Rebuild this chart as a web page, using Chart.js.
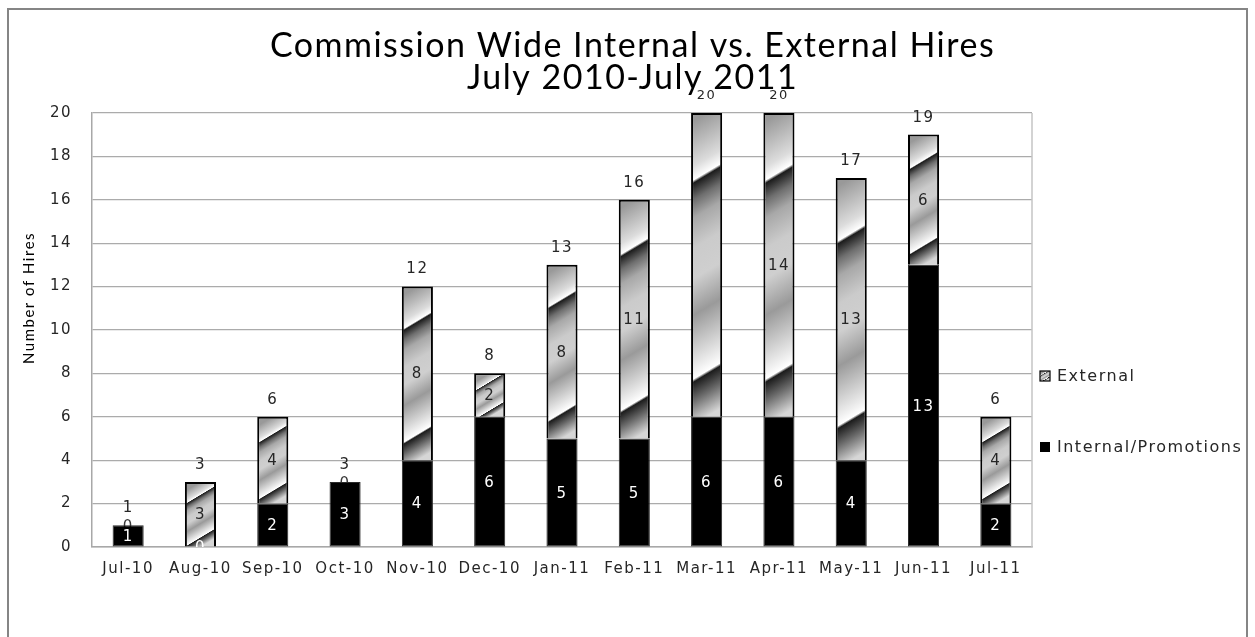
<!DOCTYPE html>
<html>
<head>
<meta charset="utf-8">
<script src="https://cdn.jsdelivr.net/npm/chart.js@4.4.1/dist/chart.umd.min.js"></script>
<style>
  html, body { margin: 0; padding: 0; background: #ffffff; }
  #wrap { width: 1255px; height: 637px; position: relative; }
</style>
</head>
<body>
<div id="wrap"><canvas id="c"></canvas></div>
<script>
const categories = ['Jul-10','Aug-10','Sep-10','Oct-10','Nov-10','Dec-10','Jan-11','Feb-11','Mar-11','Apr-11','May-11','Jun-11','Jul-11'];
const internalHires = [1, 0, 2, 3, 4, 6, 5, 5, 6, 6, 4, 13, 2];
const externalHires = [0, 3, 4, 0, 8, 2, 8, 11, 14, 14, 13, 6, 4];
const seriesNames = ['Internal/Promotions', 'External'];
const titleLines = ['Commission Wide Internal vs. External Hires', 'July 2010-July 2011'];
const yAxisTitle = 'Number of Hires';
const yMin = 0, yMax = 20, yStep = 2;
const externalLabelHidden = ['Mar-11'];

const LETTER_SPACING = '1.5px';
const TICK_FONT = { family: 'DejaVu Sans', size: 15 };

function chromeGradient(ctx2d, cx, top, h) {
  const g = ctx2d.createLinearGradient(cx, top, cx + 0.6 * h / 1.36, top + h / 1.36);
  g.addColorStop(0.00, '#999999');
  g.addColorStop(0.15, '#dcdcdc');
  g.addColorStop(0.195, '#ffffff');
  g.addColorStop(0.205, '#1c1c1c');
  g.addColorStop(0.26, '#6e6e6e');
  g.addColorStop(0.32, '#a8a8a8');
  g.addColorStop(0.42, '#cbcbcb');
  g.addColorStop(0.52, '#cfcfcf');
  g.addColorStop(0.64, '#9a9a9a');
  g.addColorStop(0.82, '#f0f0f0');
  g.addColorStop(0.85, '#ffffff');
  g.addColorStop(0.86, '#1c1c1c');
  g.addColorStop(0.92, '#6a6a6a');
  g.addColorStop(1.00, '#d6d6d6');
  return g;
}

function externalFill(context) {
  const chart = context.chart;
  const i = context.dataIndex;
  const xs = chart.scales.x, ys = chart.scales.y;
  if (!chart.chartArea || !xs || !ys || i == null) return '#c0c0c0';
  const cx = xs.getPixelForValue(i);
  const top = ys.getPixelForValue(internalHires[i] + externalHires[i]);
  const bot = ys.getPixelForValue(internalHires[i]);
  const h = Math.max(bot - top, 1);
  return chromeGradient(chart.ctx, cx, top, h);
}

const spacingPlugin = {
  id: 'spacing',
  beforeUpdate(chart) { chart.ctx.letterSpacing = LETTER_SPACING; },
  beforeDraw(chart) { chart.ctx.letterSpacing = LETTER_SPACING; }
};

const framePlugin = {
  id: 'frame',
  beforeDraw(chart) {
    const ctx = chart.ctx;
    ctx.save();
    ctx.fillStyle = '#ffffff';
    ctx.fillRect(0, 0, chart.width, chart.height);
    ctx.strokeStyle = '#858585';
    ctx.lineWidth = 2;
    ctx.strokeRect(8, 9, chart.width - 16, chart.height + 20);
    ctx.restore();
  },
  beforeDatasetsDraw(chart) {
    const ctx = chart.ctx, a = chart.chartArea;
    ctx.save();
    ctx.strokeStyle = '#c4c4c4';
    ctx.lineWidth = 1.5;
    ctx.beginPath();
    ctx.moveTo(a.right, a.top);
    ctx.lineTo(a.right, a.bottom);
    ctx.stroke();
    ctx.restore();
  }
};

function labelFont(size) { return size + 'px "DejaVu Sans"'; }

const labelsPlugin = {
  id: 'barLabels',
  beforeDatasetsDraw(chart) {
    const ctx = chart.ctx, ys = chart.scales.y, xs = chart.scales.x;
    ctx.save();
    ctx.font = labelFont(15);
    ctx.textAlign = 'center';
    ctx.textBaseline = 'middle';
    ctx.fillStyle = '#3a3a3a';
    categories.forEach((c, i) => {
      if (externalHires[i] === 0) {
        const y = ys.getPixelForValue(internalHires[i]);
        ctx.fillText('0', xs.getPixelForValue(i), y + 2);
      }
    });
    ctx.restore();
  },
  afterDatasetsDraw(chart) {
    const ctx = chart.ctx, ys = chart.scales.y, xs = chart.scales.x, a = chart.chartArea;
    ctx.save();
    ctx.textAlign = 'center';
    ctx.textBaseline = 'middle';
    ctx.save();
    ctx.beginPath();
    ctx.rect(a.left, a.top, a.right - a.left, a.bottom - a.top);
    ctx.clip();
    ctx.font = labelFont(15);
    categories.forEach((c, i) => {
      const x = xs.getPixelForValue(i);
      const y0 = ys.getPixelForValue(0);
      const y1 = ys.getPixelForValue(internalHires[i]);
      const y2 = ys.getPixelForValue(internalHires[i] + externalHires[i]);
      ctx.fillStyle = '#ffffff';
      ctx.fillText(String(internalHires[i]), x, (y0 + y1) / 2 + 1);
      if (externalHires[i] > 0 && externalLabelHidden.indexOf(c) < 0) {
        ctx.fillStyle = '#262626';
        ctx.fillText(String(externalHires[i]), x, (y1 + y2) / 2 + 1);
      }
    });
    ctx.restore();
    categories.forEach((c, i) => {
      const total = internalHires[i] + externalHires[i];
      const x = xs.getPixelForValue(i);
      const y = ys.getPixelForValue(total);
      ctx.fillStyle = '#262626';
      ctx.font = labelFont(total >= yMax ? 13 : 15);
      ctx.fillText(String(total), x, y - 17);
    });
    ctx.restore();
  },
  afterDraw(chart) {
    const ctx = chart.ctx, a = chart.chartArea;
    // y-axis title
    ctx.save();
    ctx.translate(29, 298);
    ctx.rotate(-Math.PI / 2);
    ctx.font = '15px Lato';
    ctx.fillStyle = '#000000';
    ctx.textAlign = 'center';
    ctx.textBaseline = 'middle';
    ctx.fillText(yAxisTitle, 0, 0);
    ctx.restore();
    // legend
    const bx = a.right + 8;
    ctx.save();
    ctx.font = labelFont(16);
    ctx.textAlign = 'left';
    ctx.textBaseline = 'middle';
    const y1 = 376;
    ctx.fillStyle = chromeGradient(ctx, bx + 5, y1 - 5, 10);
    ctx.fillRect(bx, y1 - 5, 10, 10);
    ctx.strokeStyle = '#000000';
    ctx.lineWidth = 1.2;
    ctx.strokeRect(bx, y1 - 5, 10, 10);
    ctx.fillStyle = '#262626';
    ctx.fillText(seriesNames[1], bx + 17, y1 + 1);
    const y2 = 447;
    ctx.fillStyle = '#000000';
    ctx.fillRect(bx, y2 - 5, 10, 10);
    ctx.fillStyle = '#262626';
    ctx.fillText(seriesNames[0], bx + 17, y2 + 1);
    ctx.restore();
  }
};

new Chart(document.getElementById('c'), {
  type: 'bar',
  data: {
    labels: categories,
    datasets: [
      {
        label: seriesNames[0],
        data: internalHires,
        backgroundColor: '#000000',
        borderColor: '#2a2a2a',
        borderWidth: 1,
        borderSkipped: false,
        barPercentage: 0.43,
        categoryPercentage: 1.0,
        stack: 's'
      },
      {
        label: seriesNames[1],
        data: externalHires,
        backgroundColor: externalFill,
        borderColor: '#000000',
        borderWidth: 2,
        borderSkipped: 'start',
        barPercentage: 0.43,
        categoryPercentage: 1.0,
        stack: 's'
      }
    ]
  },
  options: {
    responsive: true,
    maintainAspectRatio: false,
    animation: false,
    layout: { padding: { left: 10, right: 0, top: 0, bottom: 0 } },
    plugins: {
      legend: { display: false },
      tooltip: { enabled: false },
      title: {
        display: true,
        text: titleLines,
        color: '#000000',
        font: { family: 'Lato', size: 34, weight: 'normal', lineHeight: 0.94 },
        padding: { top: 30, bottom: 19 }
      }
    },
    scales: {
      x: {
        stacked: true,
        grid: { display: false, drawTicks: false },
        border: { display: true, color: '#a8a8a8', width: 1.5 },
        ticks: { color: '#262626', font: TICK_FONT, padding: 13, maxRotation: 0, autoSkip: false },
        afterFit(s) { s.height = 90; }
      },
      y: {
        stacked: true,
        min: yMin,
        max: yMax,
        grid: { color: '#ababab', lineWidth: 1.2, drawTicks: false },
        border: { display: true, color: '#a8a8a8', width: 1.5 },
        ticks: { stepSize: yStep, color: '#262626', font: TICK_FONT, padding: 20 },
        afterFit(s) { s.width = 82; }
      },
      side: {
        type: 'linear',
        position: 'right',
        display: true,
        grid: { display: false, drawTicks: false },
        border: { display: false },
        ticks: { display: false },
        afterFit(s) { s.width = 223; }
      }
    }
  },
  plugins: [spacingPlugin, framePlugin, labelsPlugin]
});
</script>
</body>
</html>
